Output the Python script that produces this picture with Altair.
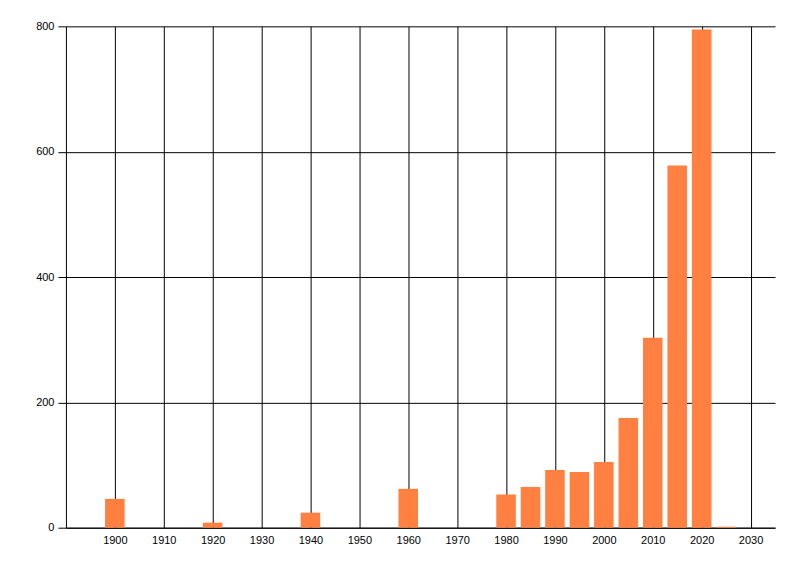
import altair as alt
import pandas as pd

years = [1900, 1920, 1940, 1960, 1980, 1985, 1990, 1995, 2000, 2005, 2010, 2015, 2020, 2025]
counts = [46, 8, 24, 62, 53, 65, 92, 89, 105, 175, 303, 578, 795, 1.5]
x_ticks = list(range(1900, 2031, 10))
y_ticks = [0, 200, 400, 600, 800]

df = pd.DataFrame({"year": years, "count": counts})

chart = (
    alt.Chart(df)
    .transform_calculate(x0="datum.year - 2", x1="datum.year + 2")
    .mark_bar(color="#FF8041")
    .encode(
        x=alt.X(
            "x0:Q",
            scale=alt.Scale(domain=[1890, 2035], nice=False, zero=False),
            axis=alt.Axis(
                values=x_ticks, format="d", title=None, ticks=False,
                labelPadding=7, grid=True,
            ),
        ),
        x2="x1:Q",
        y=alt.Y(
            "count:Q",
            scale=alt.Scale(domain=[0, 800], nice=False),
            axis=alt.Axis(
                values=y_ticks, title=None, tickSize=8, labelPadding=4, grid=True,
            ),
        ),
        y2=alt.datum(0),
    )
    .properties(
        width=710,
        height=502,
        autosize=alt.AutoSizeParams(type="none"),
        padding={"left": 58, "top": 18, "right": 17, "bottom": 40},
    )
    .configure_view(stroke=None)
    .configure_axis(
        gridColor="black",
        gridOpacity=1,
        gridWidth=1,
        domainColor="black",
        domainWidth=1,
        tickColor="black",
        tickWidth=1,
        labelColor="black",
        labelFont="Liberation Sans",
        labelFontSize=11,
    )
)

chart.save("out.html", embed_options={"renderer": "svg", "actions": False})
